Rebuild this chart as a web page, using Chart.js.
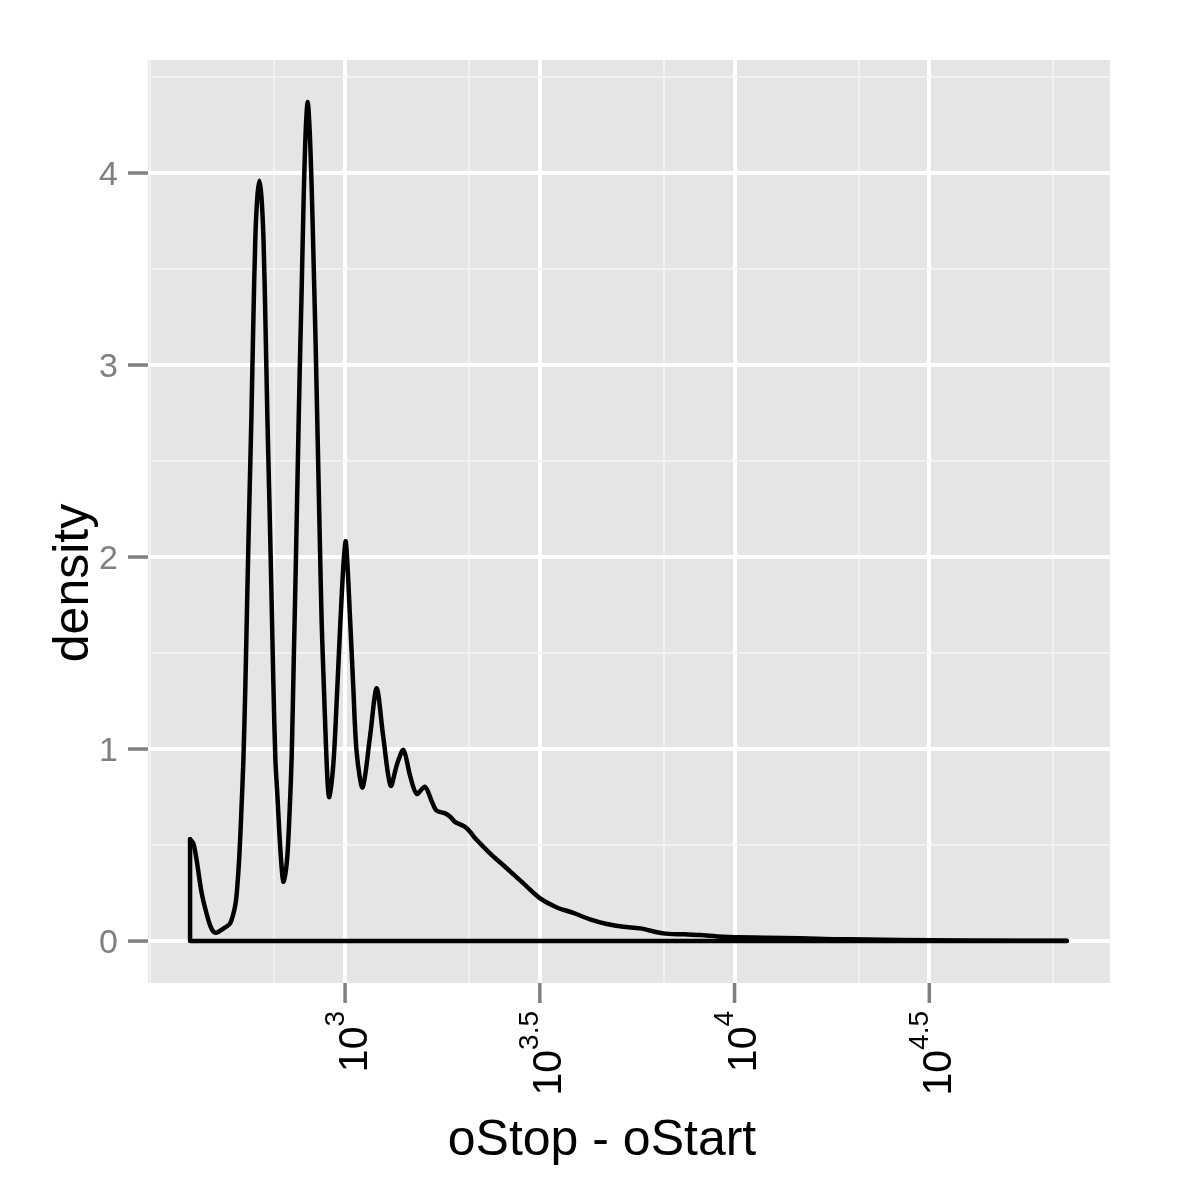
<!DOCTYPE html>
<html><head><meta charset="utf-8">
<script src="https://cdn.jsdelivr.net/npm/chart.js@4/dist/chart.umd.min.js"></script>
<style>html,body{margin:0;padding:0;background:#fff;}#wrap{width:1200px;height:1200px;position:relative;}</style>
</head><body><div id="wrap"><canvas id="c" width="1200" height="1200"></canvas></div>
<script>
// log10(oStop - oStart)
const logLength = [2.602, 2.6105, 2.619, 2.632, 2.649, 2.659, 2.669, 2.690, 2.705,
  2.7184, 2.7235, 2.7287, 2.7338, 2.7389, 2.7441, 2.7492, 2.7543, 2.7595, 2.7646, 2.7697, 2.7749, 2.7800,
  2.7851, 2.7903, 2.7954, 2.8005, 2.8057, 2.8108, 2.8159, 2.8211, 2.8262, 2.8314, 2.8365, 2.8414,
  2.8475, 2.8527, 2.8578, 2.8629, 2.8681, 2.8732, 2.8783, 2.8835, 2.8886, 2.8937, 2.8989, 2.9040,
  2.9091, 2.9143, 2.9194, 2.9245, 2.9297, 2.9348, 2.9399, 2.9451, 2.9502, 2.9553, 2.9594,
  2.970, 2.979, 2.987, 2.996, 3.002, 3.013, 3.021, 3.030, 3.045, 3.064, 3.081, 3.098, 3.117, 3.134, 3.150, 3.167, 3.184, 3.205, 3.223, 3.235, 3.257, 3.270, 3.282, 3.308, 3.321, 3.334, 3.372, 3.415, 3.458, 3.501, 3.544, 3.586, 3.629, 3.672, 3.715, 3.757, 3.817, 3.869, 3.911, 3.971, 4.083, 4.168, 4.254, 4.339, 4.425, 4.579, 4.853];
const density = [0.53, 0.509, 0.42, 0.248, 0.109, 0.057, 0.043, 0.068, 0.092,
  0.19, 0.29, 0.45, 0.68, 0.943, 1.34, 1.83, 2.29, 2.73, 3.24, 3.67, 3.88, 3.96,
  3.88, 3.67, 3.24, 2.73, 2.29, 1.83, 1.34, 0.943, 0.76, 0.56, 0.40, 0.309,
  0.36, 0.47, 0.685, 0.96, 1.45, 1.93, 2.45, 2.965, 3.40, 3.87, 4.22, 4.37,
  4.22, 3.92, 3.52, 3.10, 2.61, 2.12, 1.66, 1.35, 1.06, 0.82, 0.75,
  0.925, 1.272, 1.62, 1.967, 2.08, 1.672, 1.325, 0.978, 0.80, 1.064, 1.316, 1.064, 0.809, 0.925, 0.995, 0.86, 0.766, 0.804, 0.726, 0.679, 0.665, 0.647, 0.621, 0.595, 0.569, 0.535, 0.457, 0.379, 0.30, 0.222, 0.175, 0.147, 0.113, 0.089, 0.074, 0.066, 0.040, 0.035, 0.031, 0.022, 0.017, 0.014, 0.010, 0.008, 0.005, 0.003, 0.001];

const xMajorTicks = [3, 3.5, 4, 4.5];
const xTickBase = ['10', '10', '10', '10'];
const xTickExp = ['3', '3.5', '4', '4.5'];
const xMinorTicks = [2.5, 2.8183, 3.3183, 3.8183, 4.3183, 4.8183];
const yMajorTicks = [0, 1, 2, 3, 4];
const yTickLabels = ['0', '1', '2', '3', '4'];
const yMinorTicks = [0.5, 1.5, 2.5, 3.5, 4.5];
const xTitle = 'oStop - oStart';
const yTitle = 'density';

const FONT = '"Liberation Sans", Arial, Helvetica, sans-serif';
const curve = logLength.map((x, i) => ({x: x, y: density[i]}));
const outline = [
  {x: logLength[0], y: density[0]},
  {x: logLength[0], y: 0},
  {x: logLength[logLength.length - 1], y: 0}
];

function isIn(arr, v) { return arr.some(a => Math.abs(a - v) < 1e-9); }

const ggPlugin = {
  id: 'gg',
  beforeDraw(chart) {
    const {ctx, chartArea: a} = chart;
    ctx.save();
    ctx.fillStyle = '#ffffff';
    ctx.fillRect(0, 0, chart.width, chart.height);
    ctx.fillStyle = '#E5E5E5';
    ctx.fillRect(a.left, a.top, a.right - a.left, a.bottom - a.top);
    ctx.restore();
  },
  afterDraw(chart) {
    const {ctx, chartArea: a} = chart;
    const xs = chart.scales.x, ys = chart.scales.y;
    ctx.save();
    // tick marks
    ctx.strokeStyle = '#7F7F7F';
    ctx.lineWidth = 3.5;
    ctx.lineCap = 'butt';
    xMajorTicks.forEach(v => {
      const px = xs.getPixelForValue(v);
      ctx.beginPath(); ctx.moveTo(px, a.bottom); ctx.lineTo(px, a.bottom + 20); ctx.stroke();
    });
    yMajorTicks.forEach(v => {
      const py = ys.getPixelForValue(v);
      ctx.beginPath(); ctx.moveTo(a.left - 20, py); ctx.lineTo(a.left, py); ctx.stroke();
    });
    // y tick labels
    ctx.fillStyle = '#7F7F7F';
    ctx.font = '34px ' + FONT;
    ctx.textAlign = 'right';
    ctx.textBaseline = 'alphabetic';
    yMajorTicks.forEach((v, i) => {
      const py = ys.getPixelForValue(v);
      ctx.fillText(yTickLabels[i], a.left - 30, py + 0.358 * 34);
    });
    // x tick labels, rotated with superscript
    ctx.fillStyle = '#000000';
    const baseSize = 41, expSize = 28, raise = 23;
    xMajorTicks.forEach((v, i) => {
      const px = xs.getPixelForValue(v);
      ctx.save();
      ctx.translate(px, a.bottom + 28);
      ctx.rotate(-Math.PI / 2);
      ctx.textAlign = 'left';
      ctx.textBaseline = 'alphabetic';
      ctx.font = baseSize + 'px ' + FONT;
      const wb = ctx.measureText(xTickBase[i]).width;
      ctx.font = expSize + 'px ' + FONT;
      const we = ctx.measureText(xTickExp[i]).width;
      const x0 = -(wb + we);
      const yb = (raise + 0.716 * expSize) / 2;
      ctx.font = baseSize + 'px ' + FONT;
      ctx.fillText(xTickBase[i], x0, yb);
      ctx.font = expSize + 'px ' + FONT;
      ctx.fillText(xTickExp[i], x0 + wb, yb - raise);
      ctx.restore();
    });
    // axis titles
    ctx.fillStyle = '#000000';
    ctx.font = '50px ' + FONT;
    ctx.textAlign = 'center';
    ctx.textBaseline = 'alphabetic';
    ctx.fillText(xTitle, 602, 1155);
    ctx.save();
    ctx.translate(88, 583);
    ctx.rotate(-Math.PI / 2);
    ctx.fillText(yTitle, 0, 0);
    ctx.restore();
    ctx.restore();
  }
};

new Chart(document.getElementById('c'), {
  type: 'scatter',
  data: {
    datasets: [
      {
        data: outline, showLine: true, borderColor: '#000000', borderWidth: 4.5,
        pointRadius: 0, tension: 0, borderCapStyle: 'round', borderJoinStyle: 'round', fill: false
      },
      {
        data: curve, showLine: true, borderColor: '#000000', borderWidth: 4.5,
        pointRadius: 0, tension: 0.3, borderCapStyle: 'round',
        borderJoinStyle: 'round', fill: false
      }
    ]
  },
  options: {
    responsive: false,
    devicePixelRatio: 1,
    animation: false,
    layout: {padding: {left: 148, top: 60, right: 90, bottom: 217}},
    plugins: {legend: {display: false}, tooltip: {enabled: false}, title: {display: false}},
    scales: {
      x: {
        type: 'linear', min: 2.494, max: 4.964,
        afterBuildTicks: s => { s.ticks = xMinorTicks.concat(xMajorTicks).sort((p, q) => p - q).map(v => ({value: v})); },
        ticks: {display: false, autoSkip: false},
        border: {display: false},
        grid: {
          drawTicks: false,
          color: c => (c.tick && isIn(xMajorTicks, c.tick.value)) ? '#FFFFFF' : '#F2F2F2',
          lineWidth: c => (c.tick && isIn(xMajorTicks, c.tick.value)) ? 4 : 2
        }
      },
      y: {
        type: 'linear', min: -0.2185, max: 4.5885,
        afterBuildTicks: s => { s.ticks = yMinorTicks.concat(yMajorTicks).sort((p, q) => p - q).map(v => ({value: v})); },
        ticks: {display: false, autoSkip: false},
        border: {display: false},
        grid: {
          drawTicks: false,
          color: c => (c.tick && isIn(yMajorTicks, c.tick.value)) ? '#FFFFFF' : '#F2F2F2',
          lineWidth: c => (c.tick && isIn(yMajorTicks, c.tick.value)) ? 4 : 2
        }
      }
    }
  },
  plugins: [ggPlugin]
});
</script>
</body></html>
